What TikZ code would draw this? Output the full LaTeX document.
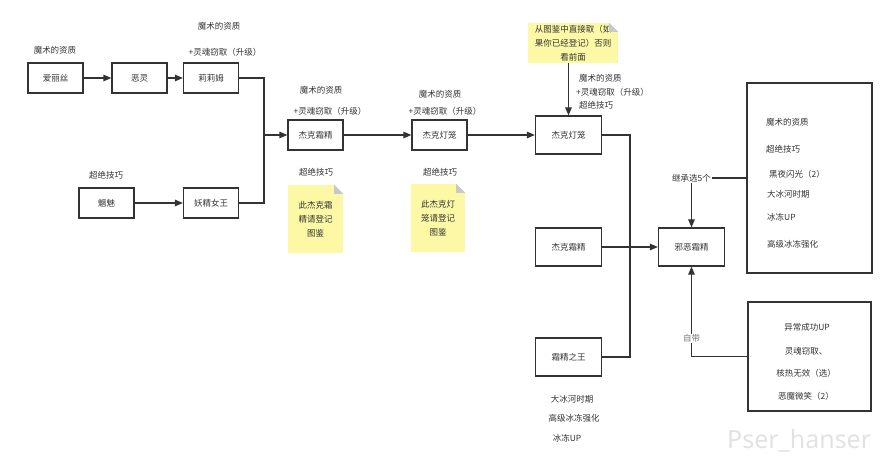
\documentclass[tikz,border=0pt]{standalone}
\usepackage{fontspec}
\setmainfont{Noto Sans CJK SC}
\newfontfamily\wmfont{Noto Sans}
\usepackage{tikz}
\usetikzlibrary{arrows.meta, positioning, calc}
\definecolor{mydark}{RGB}{51,51,51}
\definecolor{mygray}{RGB}{120,120,120}
\definecolor{noteyellow}{RGB}{252,248,165}
\definecolor{foldgray}{RGB}{200,200,200}
\definecolor{wmgray}{RGB}{226,226,226}
\tikzset{
  box/.style={rectangle, draw=mydark, text=mydark, minimum width=55pt,
    minimum height=30pt, inner sep=0pt, font=\fontsize{8.5}{10}\selectfont,
    line width=1.2pt},
  widebox/.style={box, minimum width=66pt, minimum height=38pt},
  note/.style={rectangle, fill=noteyellow, text=mydark, align=center,
    inner sep=0pt, font=\fontsize{8.5}{14}\selectfont},
  lbl/.style={text=mydark, inner sep=1pt, font=\fontsize{8.5}{10}\selectfont},
  arrow/.style={-{Triangle[length=8pt, width=6.5pt]}, line width=1.2pt, color=mydark},
  line/.style={line width=1.2pt, color=mydark}
}
\newcommand{\notefold}[1]{%
  \fill[white] ([xshift=-9pt]#1.north east) -- (#1.north east) -- ([yshift=-9pt]#1.north east) -- cycle;
  \fill[foldgray] ([xshift=-9pt]#1.north east) -- ([yshift=-9pt]#1.north east) -- ([xshift=-9pt,yshift=-9pt]#1.north east) -- cycle;}

\begin{document}
\begin{tikzpicture}[x=1pt, y=-1pt]
  \useasboundingbox (0,0) rectangle (886,457);
  \node[anchor=base west, inner sep=0pt, text=wmgray, font=\wmfont\fontsize{25}{25}\selectfont] (wm) at (727,448) {Pser\_hanser};

  % first fusions
  \node[box] (alice) at (55.5,78) {爱丽丝};
  \node[box] (legion) at (139.5,78) {恶灵};
  \node[box] (lilim) at (211,78) {莉莉姆};
  \node[box] (sudama) at (106.5,203) {魑魅};
  \node[box] (titania) at (211,203) {妖精女王};
  \node[box] (jfrost) at (315.5,135) {杰克霜精};
  \node[box] (pyro) at (439.5,135) {杰克灯笼};

  \node[lbl] (la) at (55,50) {魔术的资质};
  \node[lbl] (lb) at (219,26) {魔术的资质};
  \node[lbl] (lc) at (225,52) {+灵魂窃取（升级）};
  \node[lbl] (ld) at (106,175) {超绝技巧};
  \node[lbl] (le) at (321,90) {魔术的资质};
  \node[lbl] (lf) at (330,111) {+灵魂窃取（升级）};
  \node[lbl] (lg) at (316,172) {超绝技巧};
  \node[lbl] (lh) at (440,94) {魔术的资质};
  \node[lbl] (li) at (445,111) {+灵魂窃取（升级）};
  \node[lbl] (lj) at (440,172) {超绝技巧};

  \node[note, minimum width=55pt, minimum height=68pt] (note1) at (315.5,219) {此杰克霜\\精请登记\\图鉴};
  \node[note, minimum width=54pt, minimum height=68pt] (note2) at (438,218) {此杰克灯\\笼请登记\\图鉴};
  \node[note, minimum width=90pt, minimum height=40pt] (note3) at (573,43) {从图鉴中直接取（如\\果你已经登记）否则\\看前面};
  \notefold{note1}
  \notefold{note2}
  \notefold{note3}

  \coordinate (j1) at (264,135);
  \draw[arrow] (alice) -- (legion);
  \draw[arrow] (legion) -- (lilim);
  \draw[arrow] (sudama) -- (titania);
  \draw[line] (lilim.east) -| (j1) |- (titania.east);
  \draw[arrow] (j1) -- (jfrost.west);
  \draw[arrow] (jfrost) -- (pyro);

  % final fusion
  \node[widebox] (pyro2) at (568.5,135) {杰克灯笼};
  \node[widebox] (jfrost2) at (568.5,247) {杰克霜精};
  \node[widebox] (kfrost) at (568.5,357) {霜精之王};
  \node[widebox] (bfrost) at (691.5,247) {邪恶霜精};

  \node[lbl, anchor=west] (lk) at (578,78) {魔术的资质};
  \node[lbl, anchor=west] (ll) at (575,92) {+灵魂窃取（升级）};
  \node[lbl, anchor=west] (lm) at (578,105) {超绝技巧};
  \node[lbl] (ln) at (572,399) {大冰河时期};
  \node[lbl] (lo) at (574,418) {高级冰冻强化};
  \node[lbl] (lp) at (567,438) {冰冻UP};

  \draw[arrow] (pyro2.north |- note3.south) -- (pyro2.north);
  \draw[arrow] (pyro) -- (pyro2);
  \coordinate (j2) at (630,247);
  \draw[line] (pyro2.east) -| (j2) |- (kfrost.east);
  \draw[arrow] (jfrost2) -- (bfrost);

  % skill lists
  \node[box, minimum width=125pt, minimum height=190pt] (skills) at (809.5,178) {};
  \node[box, minimum width=123pt, minimum height=109pt] (innate) at (809.5,356.5) {};
  \node[lbl, anchor=west] (s1) at (765,122) {魔术的资质};
  \node[lbl, anchor=west] (s2) at (765,149) {超绝技巧};
  \node[lbl, anchor=west] (s3) at (768,174) {黑夜闪光（2）};
  \node[lbl, anchor=west] (s4) at (766,194) {大冰河时期};
  \node[lbl, anchor=west] (s5) at (766,217) {冰冻UP};
  \node[lbl, anchor=west] (s6) at (766,244) {高级冰冻强化};
  \node[lbl] (t1) at (807,327) {异常成功UP};
  \node[lbl] (t2) at (806,351) {灵魂窃取、};
  \node[lbl] (t3) at (806,373) {核热无效（选）};
  \node[lbl] (t4) at (806,396) {恶魔微笑（2）};

  \draw[arrow] (skills.west) -| node[lbl, fill=white, pos=0.5] {继承选5个} (bfrost.north);
  \draw[arrow] (innate.west) -| node[lbl, fill=white, text=mygray, pos=0.6] {自带} (bfrost.south);
\end{tikzpicture}
\end{document}
